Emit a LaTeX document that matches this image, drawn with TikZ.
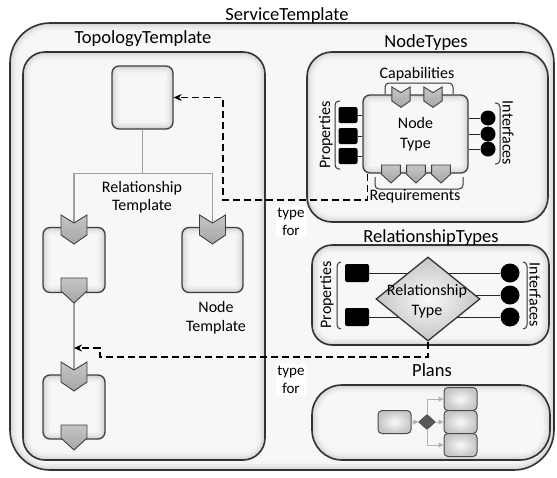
\documentclass[tikz,border=0pt]{standalone}
\usepackage{fontspec}
\setmainfont{Carlito}
\usetikzlibrary{shapes.geometric,arrows.meta}

\tikzset{
  glow/.style={path picture={
    \foreach \w/\c in {18/8,12/15,7/24,3/36}
      \draw[line width=\w pt,gray!\c,rounded corners=#1]
        (path picture bounding box.south west) rectangle (path picture bounding box.north east);}},
  panel/.style={draw=black!80,line width=1.6pt,fill=gray!6,rounded corners=#1,glow=#1,inner sep=0pt},
  box/.style={draw=black!75,line width=1.3pt,fill=gray!6,rounded corners=7pt,glow=7pt,inner sep=0pt,
    align=center,font=\fontsize{16}{20}\selectfont},
  ttl/.style={font=\fontsize{18.5}{20}\selectfont,inner sep=0pt},
  lbl/.style={font=\fontsize{16}{19}\selectfont,align=center,inner sep=0pt},
  note/.style={font=\fontsize{15}{18}\selectfont,align=center,inner sep=1.5pt,fill=white},
  tab/.style={draw=black!75,line width=0.9pt,top color=gray!45,bottom color=gray!70},
  rel/.style={draw=gray!75,line width=1.2pt},
  wire/.style={draw=black!85,line width=1pt},
  typeof/.style={line width=1.5pt,dash pattern=on 7pt off 4pt,-{Stealth[length=8pt,width=7pt]}},
  prop/.style={fill=black,rounded corners=2pt,inner sep=0pt,minimum width=#1},
  intf/.style={circle,fill=black,inner sep=0pt,minimum size=#1},
  brk/.style={draw=black!80,line width=1pt,rounded corners=4pt},
  pbox/.style={draw=black!70,line width=1pt,rounded corners=4pt,inner sep=0pt,
    minimum width=33pt,minimum height=23pt,inner color=gray!5,outer color=gray!45},
  flow/.style={draw=gray!60,line width=1pt,-{Triangle[length=5pt,width=5pt]}},
  captab/.pic={\draw[tab] (-13,0) -- (0,8) -- (13,0) -- (13,20) -- (0,29) -- (-13,20) -- cycle;},
  reqtab/.pic={\draw[tab] (-13,0) -- (13,0) -- (13,13) -- (0,25) -- (-13,13) -- cycle;},
}

\begin{document}
\begin{tikzpicture}[x=1pt,y=-1pt]
\useasboundingbox (0,0) rectangle (557,477);

\node[panel=40pt,minimum width=544pt,minimum height=447pt] (st) at (282,246.5) {};
\node[ttl,anchor=base] at (287,20) {ServiceTemplate};
\node[panel=22pt,minimum width=242pt,minimum height=408pt] (tt) at (144,256) {};
\node[ttl,anchor=base] at (143,43) {TopologyTemplate};
\node[panel=25pt,minimum width=241pt,minimum height=170pt] (ntypes) at (427.5,137) {};
\node[ttl,anchor=base] at (426,47) {NodeTypes};
\node[panel=20pt,minimum width=237pt,minimum height=100pt] (rtypes) at (430.5,295) {};
\node[ttl,anchor=base] at (431,242) {RelationshipTypes};
\node[panel=30pt,minimum width=238pt,minimum height=75pt] (plans) at (431,422.5) {};
\node[ttl,anchor=base] at (432,376) {Plans};

% topology
\node[box,minimum width=61pt,minimum height=63pt] (nt1) at (142.5,97.5) {};
\node[box,minimum width=62pt,minimum height=65pt] (nt2) at (74,260) {};
\node[box,minimum width=61pt,minimum height=65pt] (nt3) at (212.5,260) {};
\node[box,minimum width=62pt,minimum height=64pt] (nt4) at (74,407) {};
\draw[rel] (nt1.south) -- ++(0,44) coordinate (fork);
\draw[rel] (nt2.north) |- (fork) -| (nt3.north);
\draw[rel] (nt2.south) -- (nt4.north);
\coordinate (rin) at (74,348);
\pic at (74,215) {captab};
\pic at (212.5,215) {captab};
\pic at (74,362) {captab};
\pic at (74,278) {reqtab};
\pic at (74,425) {reqtab};
\node[lbl,anchor=base,font=\fontsize{16}{18}\selectfont] at (142,210) {Relationship\\Template};
\node[lbl,anchor=base] at (216,331) {Node\\Template};

% node type
\node[box,minimum width=105pt,minimum height=78pt] (ntype) at (415.5,134) {Node\\Type};
\node[prop=19pt,minimum height=16pt] (ntprop1) at (348,115) {};
\node[prop=19pt,minimum height=16pt] (ntprop2) at (348,136) {};
\node[prop=19pt,minimum height=16pt] (ntprop3) at (348,156) {};
\draw[wire] (ntprop1) -- (ntprop1 -| ntype.west);
\draw[wire] (ntprop2) -- (ntprop2 -| ntype.west);
\draw[wire] (ntprop3) -- (ntprop3 -| ntype.west);
\node[intf=15pt] (ntif1) at (488,118) {};
\node[intf=15pt] (ntif2) at (488,134) {};
\node[intf=15pt] (ntif3) at (488,149) {};
\draw[wire] (ntif1) -- (ntif1 -| ntype.east);
\draw[wire] (ntif2) -- (ntif2 -| ntype.east);
\draw[wire] (ntif3) -- (ntif3 -| ntype.east);
\pic[scale=0.7] at (401,87) {captab};
\pic[scale=0.7] at (433,87) {captab};
\pic[scale=0.72] at (391,165) {reqtab};
\pic[scale=0.72] at (416,165) {reqtab};
\pic[scale=0.72] at (441,165) {reqtab};
\draw[brk] (385,94) -- (385,83) -- (453,83) -- (453,94);
\draw[brk] (375,177) -- (375,189) -- (463,189) -- (463,177);
\draw[brk] (340,101) -- (335,101) -- (335,169) -- (340,169);
\draw[brk] (495,103) -- (500,103) -- (500,164) -- (495,164);
\node[lbl,anchor=base] at (417,78) {Capabilities};
\node[lbl,anchor=base] at (415,200) {Requirements};
\node[lbl,rotate=90] at (326,135) {Properties};
\node[lbl,rotate=-90] at (508,133) {Interfaces};

% relationship type
\node[prop=24pt,minimum height=18pt] (rtprop1) at (357,273) {};
\node[prop=24pt,minimum height=18pt] (rtprop2) at (357,317) {};
\node[intf=19pt] (rtif1) at (510,273) {};
\node[intf=19pt] (rtif2) at (510,295) {};
\node[intf=19pt] (rtif3) at (510,317) {};
\draw[wire] (rtprop1) -- (rtif1);
\draw[wire] (rtprop2) -- (rtif3);
\draw[wire] (428,295) -- (rtif2);
\node[diamond,draw=black!80,line width=1.3pt,inner color=gray!5,outer color=gray!45,
  minimum width=104pt,minimum height=84pt,inner sep=0pt] (rtype) at (428,299) {};
\node[lbl,anchor=base,font=\fontsize{16}{20}\selectfont] at (427,315) {Relationship\\Type};
\draw[brk] (341,262) -- (337,262) -- (337,329) -- (341,329);
\draw[brk] (523,262) -- (527,262) -- (527,329) -- (523,329);
\node[lbl,rotate=90] at (327,295) {Properties};
\node[lbl,rotate=-90] at (535,295) {Interfaces};

% plans
\node[pbox] (pstart) at (394.5,422) {};
\node[diamond,draw=black!80,fill=gray!70!black,inner sep=0pt,minimum width=17pt,minimum height=15pt] (pgate) at (427,422) {};
\node[pbox] (pstep1) at (460.5,399) {};
\node[pbox] (pstep2) at (460.5,422) {};
\node[pbox] (pstep3) at (460.5,445) {};
\draw[flow] (pstart) -- (pgate);
\draw[flow] (pgate.north) |- (pstep1);
\draw[flow] (pgate) -- (pstep2);
\draw[flow] (pgate.south) |- (pstep3);

% type of
\draw[typeof] ([xshift=5pt]ntype.south west) |- (223,200) |- (nt1.east);
\draw[typeof] (rtype.south) |- (100,357) |- (rin);
\node[note,anchor=base] at (291,235) {type\\for};
\node[note,anchor=base] at (291,393) {type\\for};

\end{tikzpicture}
\end{document}
